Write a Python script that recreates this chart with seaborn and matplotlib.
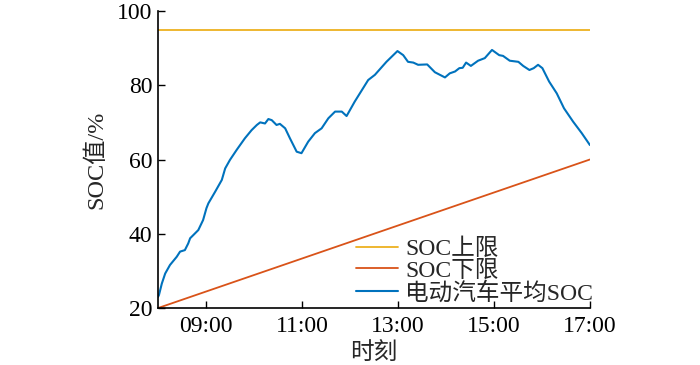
import numpy as np
import pandas as pd
import matplotlib
matplotlib.use('Agg')
import matplotlib.pyplot as plt
import seaborn as sns

# ----- data -----
hours = [8.0, 8.02, 8.08, 8.15, 8.25, 8.39, 8.46, 8.56, 8.63, 8.67, 8.74,
         8.84, 8.94, 9.01, 9.05, 9.19, 9.33, 9.4, 9.5, 9.64, 9.81, 9.95,
         10.06, 10.13, 10.23, 10.3, 10.37, 10.47, 10.54, 10.65, 10.75,
         10.89, 10.99, 11.13, 11.27, 11.41, 11.55, 11.69, 11.83, 11.93,
         12.1, 12.38, 12.52, 12.76, 12.99, 13.11, 13.21, 13.32, 13.42,
         13.61, 13.77, 13.98, 14.08, 14.19, 14.28, 14.35, 14.42, 14.52,
         14.67, 14.81, 14.96, 15.11, 15.19, 15.33, 15.51, 15.61, 15.74,
         15.83, 15.92, 16.01, 16.15, 16.31, 16.46, 16.65, 16.83, 17.0]
soc_avg = [23.0, 23.5, 26.6, 29.3, 31.6, 33.8, 35.2, 35.6, 37.4, 38.8, 39.7,
           41.0, 43.7, 46.9, 48.2, 51.3, 54.5, 57.6, 59.9, 62.6, 65.7, 67.9,
           69.3, 70.0, 69.7, 70.9, 70.6, 69.3, 69.6, 68.4, 65.7,
           62.1, 61.7, 64.8, 67.1, 68.4, 71.1, 72.9, 72.9, 71.7,
           75.6, 81.4, 82.8, 86.3, 89.2, 88.1, 86.3, 86.1, 85.5,
           85.6, 83.5, 82.1, 83.2, 83.7, 84.6, 84.7, 86.1, 85.2,
           86.6, 87.3, 89.5, 88.1, 87.9, 86.6, 86.3, 85.2, 84.1,
           84.6, 85.5, 84.6, 81.0, 77.8, 73.8, 70.2, 67.1, 63.9]

limit_hours = [8, 17]
soc_upper = [95, 95]
soc_lower = [20, 60]

xtick_vals = [9, 11, 13, 15, 17]
xtick_labels = ['09:00', '11:00', '13:00', '15:00', '17:00']
ytick_vals = [20, 40, 60, 80, 100]

sns.set_style('ticks')
plt.rcParams['font.family'] = ['Liberation Serif', 'Noto Sans CJK SC']
plt.rcParams['axes.unicode_minus'] = False

fig = plt.figure(figsize=(7, 3.65), dpi=100)
ax = fig.add_axes([0.2257, 0.156, 0.617, 0.814])

sns.lineplot(x=limit_hours, y=soc_upper, ax=ax, color='#EDB120', lw=1.3, label='SOC上限')
sns.lineplot(x=limit_hours, y=soc_lower, ax=ax, color='#D95319', lw=1.3, label='SOC下限')
sns.lineplot(x=hours, y=soc_avg, ax=ax, color='#0072BD', lw=1.5, sort=False, label='电动汽车平均SOC')

ax.set_xlim(8, 17)
ax.set_ylim(20, 100)
ax.set_xticks(xtick_vals)
ax.set_xticklabels(xtick_labels)
ax.set_yticks(ytick_vals)
ax.tick_params(direction='in', length=5, width=1, labelsize=17, colors='black', pad=4)
ax.tick_params(axis='x', pad=6)
sns.despine(ax=ax)
for edge in ['left', 'bottom']:
    ax.spines[edge].set_color('black')
    ax.spines[edge].set_linewidth(1.2)

ax.set_xlabel('时刻', fontsize=17, labelpad=4)
ax.set_ylabel('SOC值/%', fontsize=17.5, labelpad=7)

ax.legend(loc='lower right', bbox_to_anchor=(1.04, -0.035), frameon=False,
          fontsize=17, handlelength=1.8, handletextpad=0.3, labelspacing=0.0,
          borderaxespad=0.2)

fig.savefig('out.png', dpi=100)
